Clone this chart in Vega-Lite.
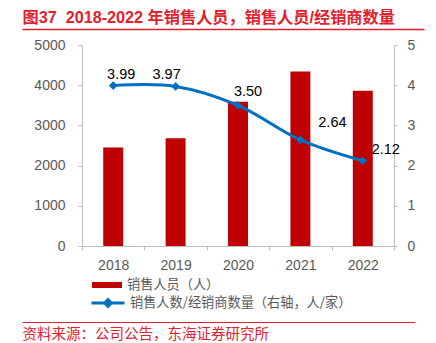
{
  "$schema": "https://vega.github.io/schema/vega-lite/v6.json",
  "width": 312,
  "height": 201,
  "autosize": {"type": "none"},
  "padding": {"left": 82, "top": 45, "right": 42, "bottom": 97},
  "data": {
    "values": [
      {"year": "2018", "sales": 2450, "ratio": 3.99},
      {"year": "2019", "sales": 2680, "ratio": 3.97},
      {"year": "2020", "sales": 3590, "ratio": 3.50},
      {"year": "2021", "sales": 4340, "ratio": 2.64},
      {"year": "2022", "sales": 3860, "ratio": 2.12}
    ]
  },
  "config": {
    "view": {"stroke": null},
    "axis": {
      "grid": false,
      "labelColor": "#595959",
      "labelFont": "Liberation Sans",
      "labelFontSize": 14,
      "domainColor": "#bfbfbf",
      "tickColor": "#bfbfbf",
      "title": null
    },
    "legend": {
      "padding": 0,
      "labelColor": "#595959",
      "labelFont": "Noto Sans CJK SC",
      "labelFontSize": 13.2,
      "labelLimit": 400,
      "title": null
    }
  },
  "layer": [
    {
      "layer": [
        {
          "mark": {"type": "bar", "width": {"band": 0.32}, "color": "#c00000"},
          "encoding": {
            "x": {
              "field": "year",
              "type": "nominal",
              "scale": {"paddingInner": 0, "paddingOuter": 0},
              "axis": {
                "orient": "bottom",
                "labelAngle": 0,
                "tickBand": "extent",
                "tickSize": 4,
                "labelPadding": 8
              }
            },
            "y": {
              "field": "sales",
              "type": "quantitative",
              "scale": {"domain": [0, 5000], "nice": false},
              "axis": {
                "orient": "left",
                "values": [0, 1000, 2000, 3000, 4000, 5000],
                "format": "d",
                "tickSize": 4,
                "labelPadding": 13
              }
            },
            "color": {
              "datum": "销售人员（人）",
              "scale": {"range": ["#c00000"]},
              "legend": {
                "orient": "none",
                "legendX": 10,
                "legendY": 225,
                "symbolType": "M-1,-0.2H1V0.2H-1Z",
                "symbolSize": 900,
                "symbolStrokeWidth": 0,
                "labelOffset": 5
              }
            }
          }
        },
        {
          "layer": [
            {
              "mark": {"type": "line", "strokeWidth": 3, "interpolate": "catmull-rom"},
              "encoding": {
                "x": {"field": "year", "type": "nominal"},
                "y": {
                  "field": "ratio",
                  "type": "quantitative",
                  "scale": {"domain": [0, 5], "nice": false},
                  "axis": {
                    "orient": "right",
                    "values": [0, 1, 2, 3, 4, 5],
                    "tickSize": 3,
                    "labelPadding": 10
                  }
                },
                "stroke": {
                  "datum": "销售人数/经销商数量（右轴，人/家）",
                  "scale": {"range": ["#0070c0"]},
                  "legend": {
                    "orient": "none",
                    "legendX": 8,
                    "legendY": 240,
                    "symbolType": "M-1,0H1M-0.2,0L0,-0.2L0.2,0L0,0.2Z",
                    "symbolSize": 1089,
                    "symbolStrokeWidth": 3,
                    "symbolFillColor": "#0070c0",
                    "labelOffset": 4,
                    "encode": {"symbols": {"update": {"fill": {"value": "#0070c0"}}}}
                  }
                }
              }
            },
            {
              "mark": {"type": "point", "shape": "diamond", "filled": true, "size": 75, "color": "#0070c0", "opacity": 1},
              "encoding": {
                "x": {"field": "year", "type": "nominal"},
                "y": {"field": "ratio", "type": "quantitative"}
              }
            },
            {
              "transform": [{"filter": "datum.year == '2018'"}],
              "mark": {"type": "text", "dx": 8, "dy": -11, "font": "Liberation Sans", "fontSize": 14.5, "color": "#000000"},
              "encoding": {
                "x": {"field": "year", "type": "nominal"},
                "y": {"field": "ratio", "type": "quantitative"},
                "text": {"field": "ratio", "type": "quantitative", "format": ".2f"}
              }
            },
            {
              "transform": [{"filter": "datum.year == '2019'"}],
              "mark": {"type": "text", "dx": -9, "dy": -11, "font": "Liberation Sans", "fontSize": 14.5, "color": "#000000"},
              "encoding": {
                "x": {"field": "year", "type": "nominal"},
                "y": {"field": "ratio", "type": "quantitative"},
                "text": {"field": "ratio", "type": "quantitative", "format": ".2f"}
              }
            },
            {
              "transform": [{"filter": "datum.year == '2020'"}],
              "mark": {"type": "text", "dx": 10, "dy": -13, "font": "Liberation Sans", "fontSize": 14.5, "color": "#000000"},
              "encoding": {
                "x": {"field": "year", "type": "nominal"},
                "y": {"field": "ratio", "type": "quantitative"},
                "text": {"field": "ratio", "type": "quantitative", "format": ".2f"}
              }
            },
            {
              "transform": [{"filter": "datum.year == '2021'"}],
              "mark": {"type": "text", "dx": 32, "dy": -17, "font": "Liberation Sans", "fontSize": 14.5, "color": "#000000"},
              "encoding": {
                "x": {"field": "year", "type": "nominal"},
                "y": {"field": "ratio", "type": "quantitative"},
                "text": {"field": "ratio", "type": "quantitative", "format": ".2f"}
              }
            },
            {
              "transform": [{"filter": "datum.year == '2022'"}],
              "mark": {"type": "text", "dx": 23, "dy": -11, "font": "Liberation Sans", "fontSize": 14.5, "color": "#000000"},
              "encoding": {
                "x": {"field": "year", "type": "nominal"},
                "y": {"field": "ratio", "type": "quantitative"},
                "text": {"field": "ratio", "type": "quantitative", "format": ".2f"}
              }
            }
          ]
        }
      ],
      "resolve": {"scale": {"y": "independent"}, "axis": {"y": "independent"}}
    },
    {
      "mark": {"type": "point", "opacity": 0},
      "encoding": {
        "x": {
          "field": "year",
          "type": "nominal",
          "scale": {"range": [-60, 342]},
          "axis": {
            "orient": "bottom",
            "offset": -217,
            "domain": true,
            "domainColor": "#e3202e",
            "domainWidth": 1.5,
            "ticks": false,
            "labels": false,
            "title": "图37\u00a0\u00a02018-2022 年销售人员，销售人员/经销商数量",
            "titleX": -60,
            "titleY": -7,
            "titleAlign": "left",
            "titleAnchor": "start",
            "titleBaseline": "alphabetic",
            "titleColor": "#e3202e",
            "titleFont": "Liberation Sans, Noto Sans CJK SC",
            "titleFontSize": 16.2,
            "titleFontWeight": "bold"
          }
        }
      }
    },
    {
      "mark": {"type": "point", "opacity": 0},
      "encoding": {
        "x": {
          "field": "year",
          "type": "nominal",
          "scale": {"range": [-60, 333]},
          "axis": {
            "orient": "bottom",
            "offset": 76,
            "domain": true,
            "domainColor": "#e3202e",
            "domainWidth": 1.2,
            "ticks": false,
            "labels": false,
            "title": "资料来源：公司公告，东海证券研究所",
            "titleX": -60,
            "titleY": 16,
            "titleAlign": "left",
            "titleAnchor": "start",
            "titleBaseline": "alphabetic",
            "titleColor": "#e3202e",
            "titleFont": "Noto Sans CJK SC",
            "titleFontSize": 14.5,
            "titleFontWeight": "normal"
          }
        }
      }
    }
  ],
  "resolve": {"scale": {"x": "independent"}, "axis": {"x": "independent"}}
}
